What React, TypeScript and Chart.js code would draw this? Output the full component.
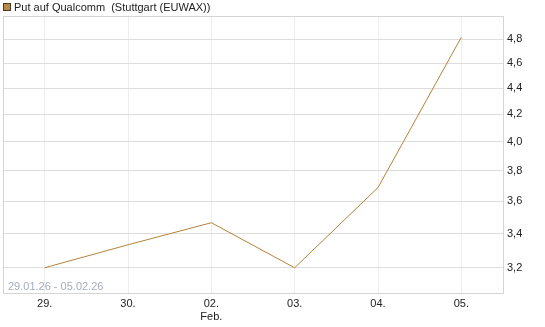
import React, { useEffect, useRef } from "react";
import { Chart, registerables } from "chart.js";

Chart.register(...registerables);

const categories: (string | string[])[] = ["29.", "30.", ["02.", "Feb."], "03.", "04.", "05."];
const values: number[] = [3.2, 3.333, 3.466, 3.2, 3.689, 4.815];
const yTicks: number[] = [3.2, 3.4, 3.6, 3.8, 4.0, 4.2, 4.4, 4.6, 4.8];
const seriesLabel = "Put auf Qualcomm  (Stuttgart (EUWAX))";
const rangeLabel = "29.01.26 - 05.02.26";

const LINE = "#b5823a";

export default function App() {
  const ref = useRef<HTMLCanvasElement | null>(null);
  useEffect(() => {
    document.body.style.margin = "0";
    const canvas = ref.current!;
    const extras = {
      id: "extras",
      beforeDatasetsDraw(chart: any) {
        const { ctx, chartArea: a } = chart;
        ctx.save();
        ctx.font = "11px 'Liberation Sans', Arial, sans-serif";
        ctx.fillStyle = "#a4acbd";
        ctx.textBaseline = "alphabetic";
        ctx.textAlign = "left";
        ctx.fillText(rangeLabel, 8, a.bottom - 3);
        ctx.restore();
      },
      afterDraw(chart: any) {
        const { ctx, chartArea: a } = chart;
        ctx.save();
        ctx.strokeStyle = "#d4d4d4";
        ctx.lineWidth = 1;
        ctx.strokeRect(Math.round(a.left) + 0.5, Math.round(a.top) + 0.5, Math.round(a.right - a.left), Math.round(a.bottom - a.top));
        // legend
        ctx.fillStyle = "#b88a4a";
        ctx.fillRect(3, 3, 8, 8);
        ctx.strokeStyle = "#4a3a20";
        ctx.strokeRect(3.5, 3.5, 7, 7);
        ctx.fillStyle = "#222";
        ctx.font = "11px 'Liberation Sans', Arial, sans-serif";
        ctx.textBaseline = "middle";
        ctx.fillText(seriesLabel, 14, 7.5);
        ctx.restore();
      },
    };
    const chart = new Chart(canvas, {
      type: "line",
      data: {
        labels: categories,
        datasets: [
          {
            data: values,
            borderColor: LINE,
            borderWidth: 1,
            pointRadius: 0,
            tension: 0,
            fill: false,
          },
        ],
      },
      options: {
        responsive: false,
        animation: false,
        layout: { padding: { left: 3, top: 16, right: 0, bottom: 0 } },
        plugins: { legend: { display: false }, tooltip: { enabled: false } },
        scales: {
          x: {
            type: "category",
            offset: true,
            grid: { color: "#eeeeee", drawTicks: false, offset: false },
            border: { display: false },
            ticks: {
              color: "#222",
              font: { size: 11, family: "'Liberation Sans', Arial, sans-serif" },
              padding: 4,
              maxRotation: 0,
              autoSkip: false,
            },
            afterFit(scale: any) {
              scale.height = 34;
            },
          },
          y: {
            type: "logarithmic",
            position: "right",
            min: 3.06,
            max: 5.0,
            grid: { color: "#dddddd", drawTicks: false },
            border: { display: false },
            afterBuildTicks(scale: any) {
              scale.ticks = yTicks.map((v) => ({ value: v }));
            },
            ticks: {
              color: "#222",
              font: { size: 11, family: "'Liberation Sans', Arial, sans-serif" },
              padding: 4,
              callback: (v: any) => Number(v).toFixed(1).replace(".", ","),
            },
            afterFit(scale: any) {
              scale.width = 42;
            },
          },
        },
      },
      plugins: [extras],
    } as any);
    return () => chart.destroy();
  }, []);
  return <canvas ref={ref} width={545} height={327} style={{ display: "block" }} />;
}
